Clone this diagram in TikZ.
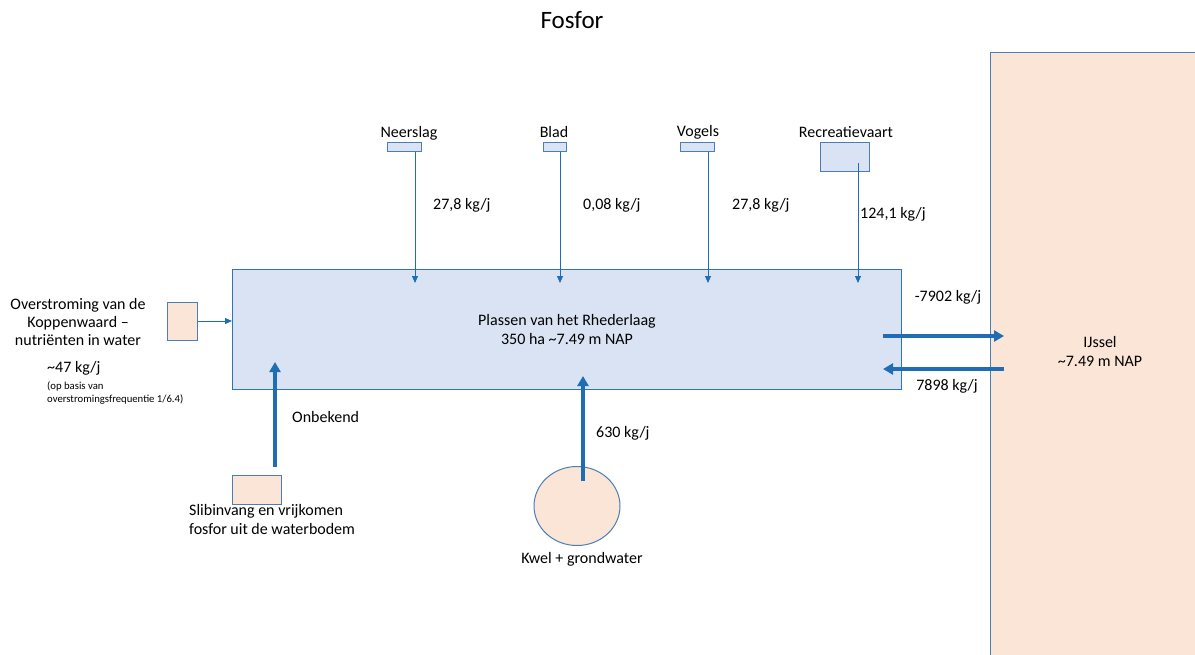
\documentclass[tikz,border=0pt]{standalone}
\usepackage{fontspec}
\setmainfont{Carlito}
\usetikzlibrary{arrows.meta,shapes.geometric}
\definecolor{arrowblue}{HTML}{1F6EB4}
\definecolor{edgeblue}{HTML}{4A7EB5}
\definecolor{mainedge}{HTML}{2E75B6}
\definecolor{lightblue}{HTML}{DAE3F3}
\definecolor{peach}{HTML}{FBE5D6}
\tikzset{
  txt/.style={inner sep=0pt, font=\fontsize{16}{19}\selectfont, align=center},
  srcbox/.style={draw=edgeblue, fill=lightblue, line width=1pt, inner sep=0pt},
  peachbox/.style={draw=edgeblue, fill=peach, line width=1pt, inner sep=0pt},
  thin arrow/.style={draw=arrowblue, line width=0.8pt, -{Triangle[width=6pt,length=7pt]}},
  thick arrow/.style={draw=arrowblue, line width=3.5pt, -{Triangle[width=11pt,length=10pt]}},
}
\begin{document}
\begin{tikzpicture}[x=1pt,y=-1pt]
\useasboundingbox (0,0) rectangle (1195,654);
% title
\node[txt, font=\fontsize{25}{28}\selectfont] (title) at (572,20) {Fosfor};
% IJssel
\path[draw=edgeblue, fill=peach, line width=1pt] (990,52) rectangle (1200,660);
\node[txt] (ijssel) at (1100,352) {IJssel\\\textasciitilde7.49 m NAP};
\coordinate (ijsselOut) at (1004,336);
\coordinate (ijsselIn) at (1004,369);
% main box
\node[srcbox, draw=mainedge, minimum width=669pt, minimum height=120pt, anchor=north west] (main) at (232,269) {};
\node[txt] (maintxt) at (567,330) {Plassen van het Rhederlaag\\350 ha \textasciitilde7.49 m NAP};
% top sources
\node[srcbox, minimum width=34pt, minimum height=9pt] (neer) at (404,146.5) {};
\node[txt, anchor=base] (neerl) at (409,137) {Neerslag};
\node[srcbox, minimum width=23pt, minimum height=9pt] (blad) at (554.5,146.5) {};
\node[txt, anchor=base] (bladl) at (554,137) {Blad};
\node[srcbox, minimum width=34pt, minimum height=9pt] (vog) at (697,146.5) {};
\node[txt, anchor=base] (vogl) at (698,136) {Vogels};
\node[srcbox, minimum width=49pt, minimum height=29pt] (rec) at (844.5,156.5) {};
\node[txt, anchor=base] (recl) at (846,137) {Recreatievaart};
\draw[thin arrow] (neer.south -| 415,0) -- (415,283);
\draw[thin arrow] (blad.south -| 560,0) -- (560,283);
\draw[thin arrow] (vog.south -| 708,0) -- (708,283);
\draw[thin arrow] (858,163) -- (858,283);
\node[txt, anchor=west] (l1) at (433,205) {27,8 kg/j};
\node[txt, anchor=west] (l2) at (583,205) {0,08 kg/j};
\node[txt, anchor=west] (l3) at (732,205) {27,8 kg/j};
\node[txt, anchor=west] (l4) at (860,214) {124,1 kg/j};
% left source
\node[peachbox, minimum width=30pt, minimum height=38pt] (over) at (182,321) {};
\draw[thin arrow] (over.east) -- (main.west |- over.east);
\node[txt, font=\fontsize{16}{18}\selectfont] (overl) at (78,322) {Overstroming van de\\Koppenwaard --\\nutriënten in water};
\node[txt, anchor=west] (overv) at (47,368) {\textasciitilde47 kg/j};
\node[txt, font=\fontsize{10.7}{12.5}\selectfont, align=left, anchor=west] (overn) at (47,393) {(op basis van\\overstromingsfrequentie 1/6.4)};
% slib
\node[peachbox, minimum width=49pt, minimum height=29pt] (slib) at (256.5,489.5) {};
\draw[thick arrow] (275,467) -- (275,362);
\node[txt, anchor=west] (onb) at (292,417) {Onbekend};
\node[txt, align=left, anchor=west] (slibl) at (189,519) {Slibinvang en vrijkomen\\fosfor uit de waterbodem};
% kwel
\node[peachbox, ellipse, minimum width=86pt, minimum height=79pt] (kwel) at (577,506) {};
\draw[thick arrow] (583,481) -- (583,376);
\node[txt, anchor=west] (kwelv) at (596,433) {630 kg/j};
\node[txt] (kwell) at (582,559) {Kwel + grondwater};
% IJssel exchange
\draw[thick arrow] (883,336) -- (ijsselOut);
\draw[thick arrow] (ijsselIn) -- (883,369);
\node[txt] (out) at (948,297) {-7902 kg/j};
\node[txt] (in) at (947,386) {7898 kg/j};
\end{tikzpicture}
\end{document}
